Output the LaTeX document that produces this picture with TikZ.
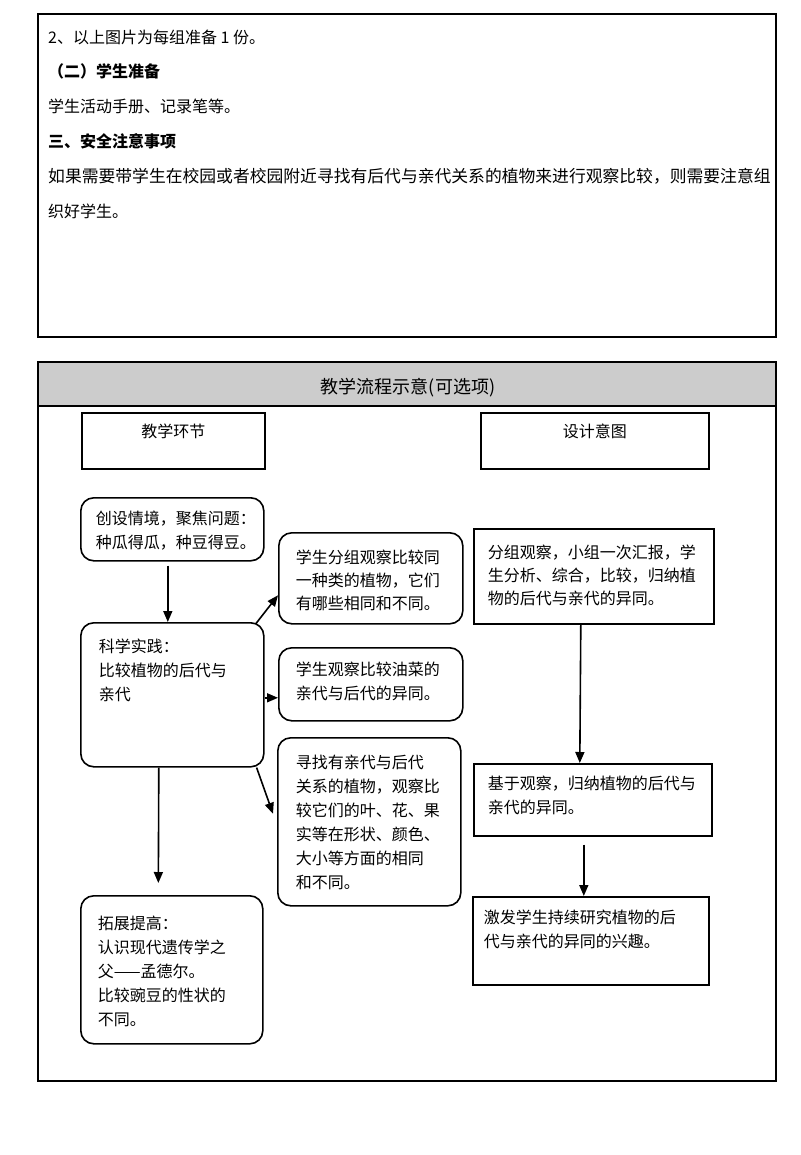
\documentclass[tikz,border=0pt]{standalone}
\usepackage{fontspec}
\setmainfont{Noto Sans CJK SC}
\usetikzlibrary{arrows.meta,calc}
\definecolor{PlanGray}{HTML}{CCCCCC}
\tikzset{
  frame/.style={draw=black, line width=1.2pt},
  headbox/.style={draw=black, line width=1.5pt, anchor=north west, align=center,
    inner xsep=4pt, inner ysep=0pt, font=\boxfont},
  stage/.style={draw=black, line width=1.6pt, rounded corners=13pt, anchor=north west,
    align=left, inner ysep=0pt, font=\boxfont},
  aim/.style={draw=black, line width=1.6pt, anchor=north west,
    align=left, inner ysep=0pt, font=\boxfont},
  flow/.style={-{Triangle[length=11pt,width=9pt]}, line width=1.6pt},
  noteline/.style={anchor=base west, inner sep=0pt, font=\notefont}
}
\newcommand{\boxfont}{\fontsize{16}{24}\selectfont}
\newcommand{\notefont}{\fontsize{16}{20}\selectfont}

\begin{document}
\begin{tikzpicture}[x=1pt, y=-1pt]
  \useasboundingbox (0,0) rectangle (800,1155);
  % preparation notes
  \draw[frame] (38,14) rectangle (776,337);
  \node[noteline] (copies) at (48,44) {2、以上图片为每组准备 1 份。};
  \node[noteline, font=\notefont\bfseries] (pupilprep) at (48,78) {（二）学生准备};
  \node[noteline] (tools) at (48,113) {学生活动手册、记录笔等。};
  \node[noteline, font=\notefont\bfseries] (safety) at (48,148) {三、安全注意事项};
  \node[noteline, font=\fontsize{16.8}{20}\selectfont] (safetytext) at (48,183)
    {如果需要带学生在校园或者校园附近寻找有后代与亲代关系的植物来进行观察比较，则需要注意组};
  \node[noteline] (safetyend) at (48,218) {织好学生。};

  % flow table
  \filldraw[frame, fill=PlanGray] (38,362) rectangle (776,406);
  \draw[frame] (38,406) rectangle (776,1081);
  \node[anchor=base, inner sep=0pt, font=\fontsize{18}{20}\selectfont] (title) at (408,393)
    {教学流程示意(可选项)};
  \node[headbox, text width=175pt, text height=25pt, text depth=31pt] (stagehead) at (81,412) {教学环节};
  \node[headbox, text width=220pt, text height=25pt, text depth=31pt] (aimhead) at (480,412) {设计意图};

  % teaching stages
  \node[stage, inner xsep=15pt, text width=153pt, text height=27pt, text depth=36pt] (situation) at (80,497)
    {创设情境，聚焦问题：\\种瓜得瓜，种豆得豆。};
  \node[stage, inner xsep=18pt, text width=147pt, text height=30pt, text depth=114pt] (practice) at (80,622)
    {科学实践：\\比较植物的后代与\\亲代};
  \node[stage, inner xsep=17pt, text width=148pt, text height=34pt, text depth=114pt] (extension) at (80,895)
    {拓展提高：\\认识现代遗传学之\\父——孟德尔。\\比较豌豆的性状的\\不同。};
  \node[stage, inner xsep=17pt, text width=150pt, text height=31pt, text depth=60pt,
    font=\fontsize{16}{23}\selectfont] (groupobs) at (278,532)
    {学生分组观察比较同\\一种类的植物，它们\\有哪些相同和不同。};
  \node[stage, inner xsep=17pt, text width=150pt, text height=28pt, text depth=45pt] (rapeseed) at (278,647)
    {学生观察比较油菜的\\亲代与后代的异同。};
  \node[stage, inner xsep=18pt, text width=147pt, text height=31pt, text depth=137pt] (search) at (277,737)
    {寻找有亲代与后代\\关系的植物，观察比\\较它们的叶、花、果\\实等在形状、颜色、\\大小等方面的相同\\和不同。};

  % design aims
  \node[aim, inner xsep=14pt, text width=212pt, text height=30pt, text depth=65pt,
    font=\fontsize{16}{23}\selectfont] (aimgroup) at (473,528)
    {分组观察，小组一次汇报，学\\生分析、综合，比较，归纳植\\物的后代与亲代的异同。};
  \node[aim, inner xsep=14pt, text width=210pt, text height=26pt, text depth=46pt] (aimsum) at (473,763)
    {基于观察，归纳植物的后代与\\亲代的异同。};
  \node[aim, inner xsep=11pt, text width=214pt, text height=27pt, text depth=61pt] (aiminterest) at (472,896)
    {激发学生持续研究植物的后\\代与亲代的异同的兴趣。};

  \draw[flow] ([xshift=-4.5pt,yshift=-4pt]situation.south) -- ([xshift=-4.5pt]practice.north);
  \draw[flow, shorten >=12pt] ([xshift=-13.5pt]practice.south) -- ([xshift=-13.5pt]extension.north);
  \draw[flow] ([xshift=-9pt,yshift=-2pt]practice.north east) -- ([yshift=-17pt]groupobs.west);
  \draw[flow] ([yshift=-3pt]practice.east) -- ([yshift=-3pt]practice.east -| rapeseed.west);
  \draw[flow] ([xshift=-8pt]practice.south east) -- ([xshift=-4pt,yshift=8pt]search.west);
  \draw[flow] ([xshift=-13pt]aimgroup.south) -- ([xshift=-13pt]aimsum.north);
  \draw[flow, shorten <=8pt] ([xshift=-9pt]aimsum.south) -- ([xshift=-9pt]aimsum.south |- aiminterest.north);
\end{tikzpicture}
\end{document}
